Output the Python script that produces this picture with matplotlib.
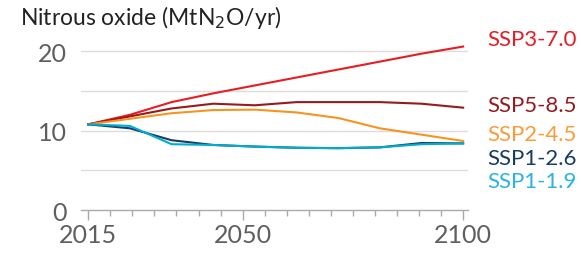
import matplotlib
matplotlib.use("Agg")
import matplotlib.pyplot as plt
import numpy as np

plt.rcParams['font.family'] = ['Lato', 'DejaVu Sans']

years = [2015, 2020, 2030, 2040, 2050, 2060, 2070, 2080, 2090, 2100]
scenarios = ["SSP3-7.0", "SSP5-8.5", "SSP2-4.5", "SSP1-2.6", "SSP1-1.9"]
ssp370 = [10.8, 12.0, 13.6, 14.7, 15.7, 16.7, 17.7, 18.7, 19.7, 20.6]
ssp585 = [10.8, 11.8, 12.8, 13.4, 13.2, 13.6, 13.6, 13.6, 13.4, 12.9]
ssp245 = [10.8, 11.5, 12.2, 12.6, 12.65, 12.3, 11.6, 10.3, 9.5, 8.7]
ssp126 = [10.8, 10.3, 8.8, 8.2, 8.0, 7.85, 7.8, 7.9, 8.45, 8.4]
ssp119 = [10.8, 10.6, 8.3, 8.2, 8.0, 7.85, 7.8, 7.9, 8.3, 8.4]
colors = ["#e71d25", "#951b1e", "#f79420", "#173c66", "#00adcf"]
label_colors = ["#e71d25", "#951b1e", "#f99d3a", "#173c66", "#2db3df"]
series = [ssp370, ssp585, ssp245, ssp126, ssp119]
label_y = [21.6, 13.2, 9.6, 6.5, 3.7]
xticks_major = [2015, 2050, 2100]

fig = plt.figure(figsize=(5.81, 2.55), dpi=100)
ax = fig.add_axes([0.1394, 0.1722, 0.8055 - 0.1394, 0.8416 - 0.1722])

# original places the data points evenly between the first and last year
xpos = np.linspace(years[0], years[-1], len(years))

for s, c in zip(series, colors):
    ax.plot(xpos, s, color=c, lw=1.5, solid_joinstyle='round', zorder=3)

ax.set_xlim(2013.35, 2101.1)
ax.set_ylim(0, 21.5)

for g in [5, 10, 15, 20]:
    ax.axhline(g, color="#dddddd", lw=1.0, zorder=1)

for sp in ['top', 'right', 'left']:
    ax.spines[sp].set_visible(False)
ax.spines['bottom'].set_color("#aaaaaa")
ax.spines['bottom'].set_linewidth(1.0)

ax.set_yticks([0, 10, 20])
ax.set_yticklabels(["0", "10", "20"])
ax.tick_params(axis='y', length=0, pad=10, labelsize=18, labelcolor="#5f5f5f")

ax.set_xticks(xticks_major)
ax.set_xticklabels([str(y) for y in xticks_major])
ax.set_xticks(np.arange(2015, 2101, 5), minor=True)
ax.tick_params(axis='x', which='major', length=7.5, width=1.0, color="#aaaaaa",
               labelsize=18, labelcolor="#5f5f5f", pad=2)
ax.tick_params(axis='x', which='minor', length=4.5, width=1.0, color="#aaaaaa")

for name, c, ly in zip(scenarios, label_colors, label_y):
    ax.text(1.05, ly, name, color=c, fontsize=16, transform=ax.get_yaxis_transform(),
            ha='left', va='center')

fig.text(0.034, 0.93, "Nitrous oxide (MtN$_2$O/yr)", fontsize=16.5, color="#222222",
         ha='left', va='center')

fig.savefig("out.png", dpi=100)
